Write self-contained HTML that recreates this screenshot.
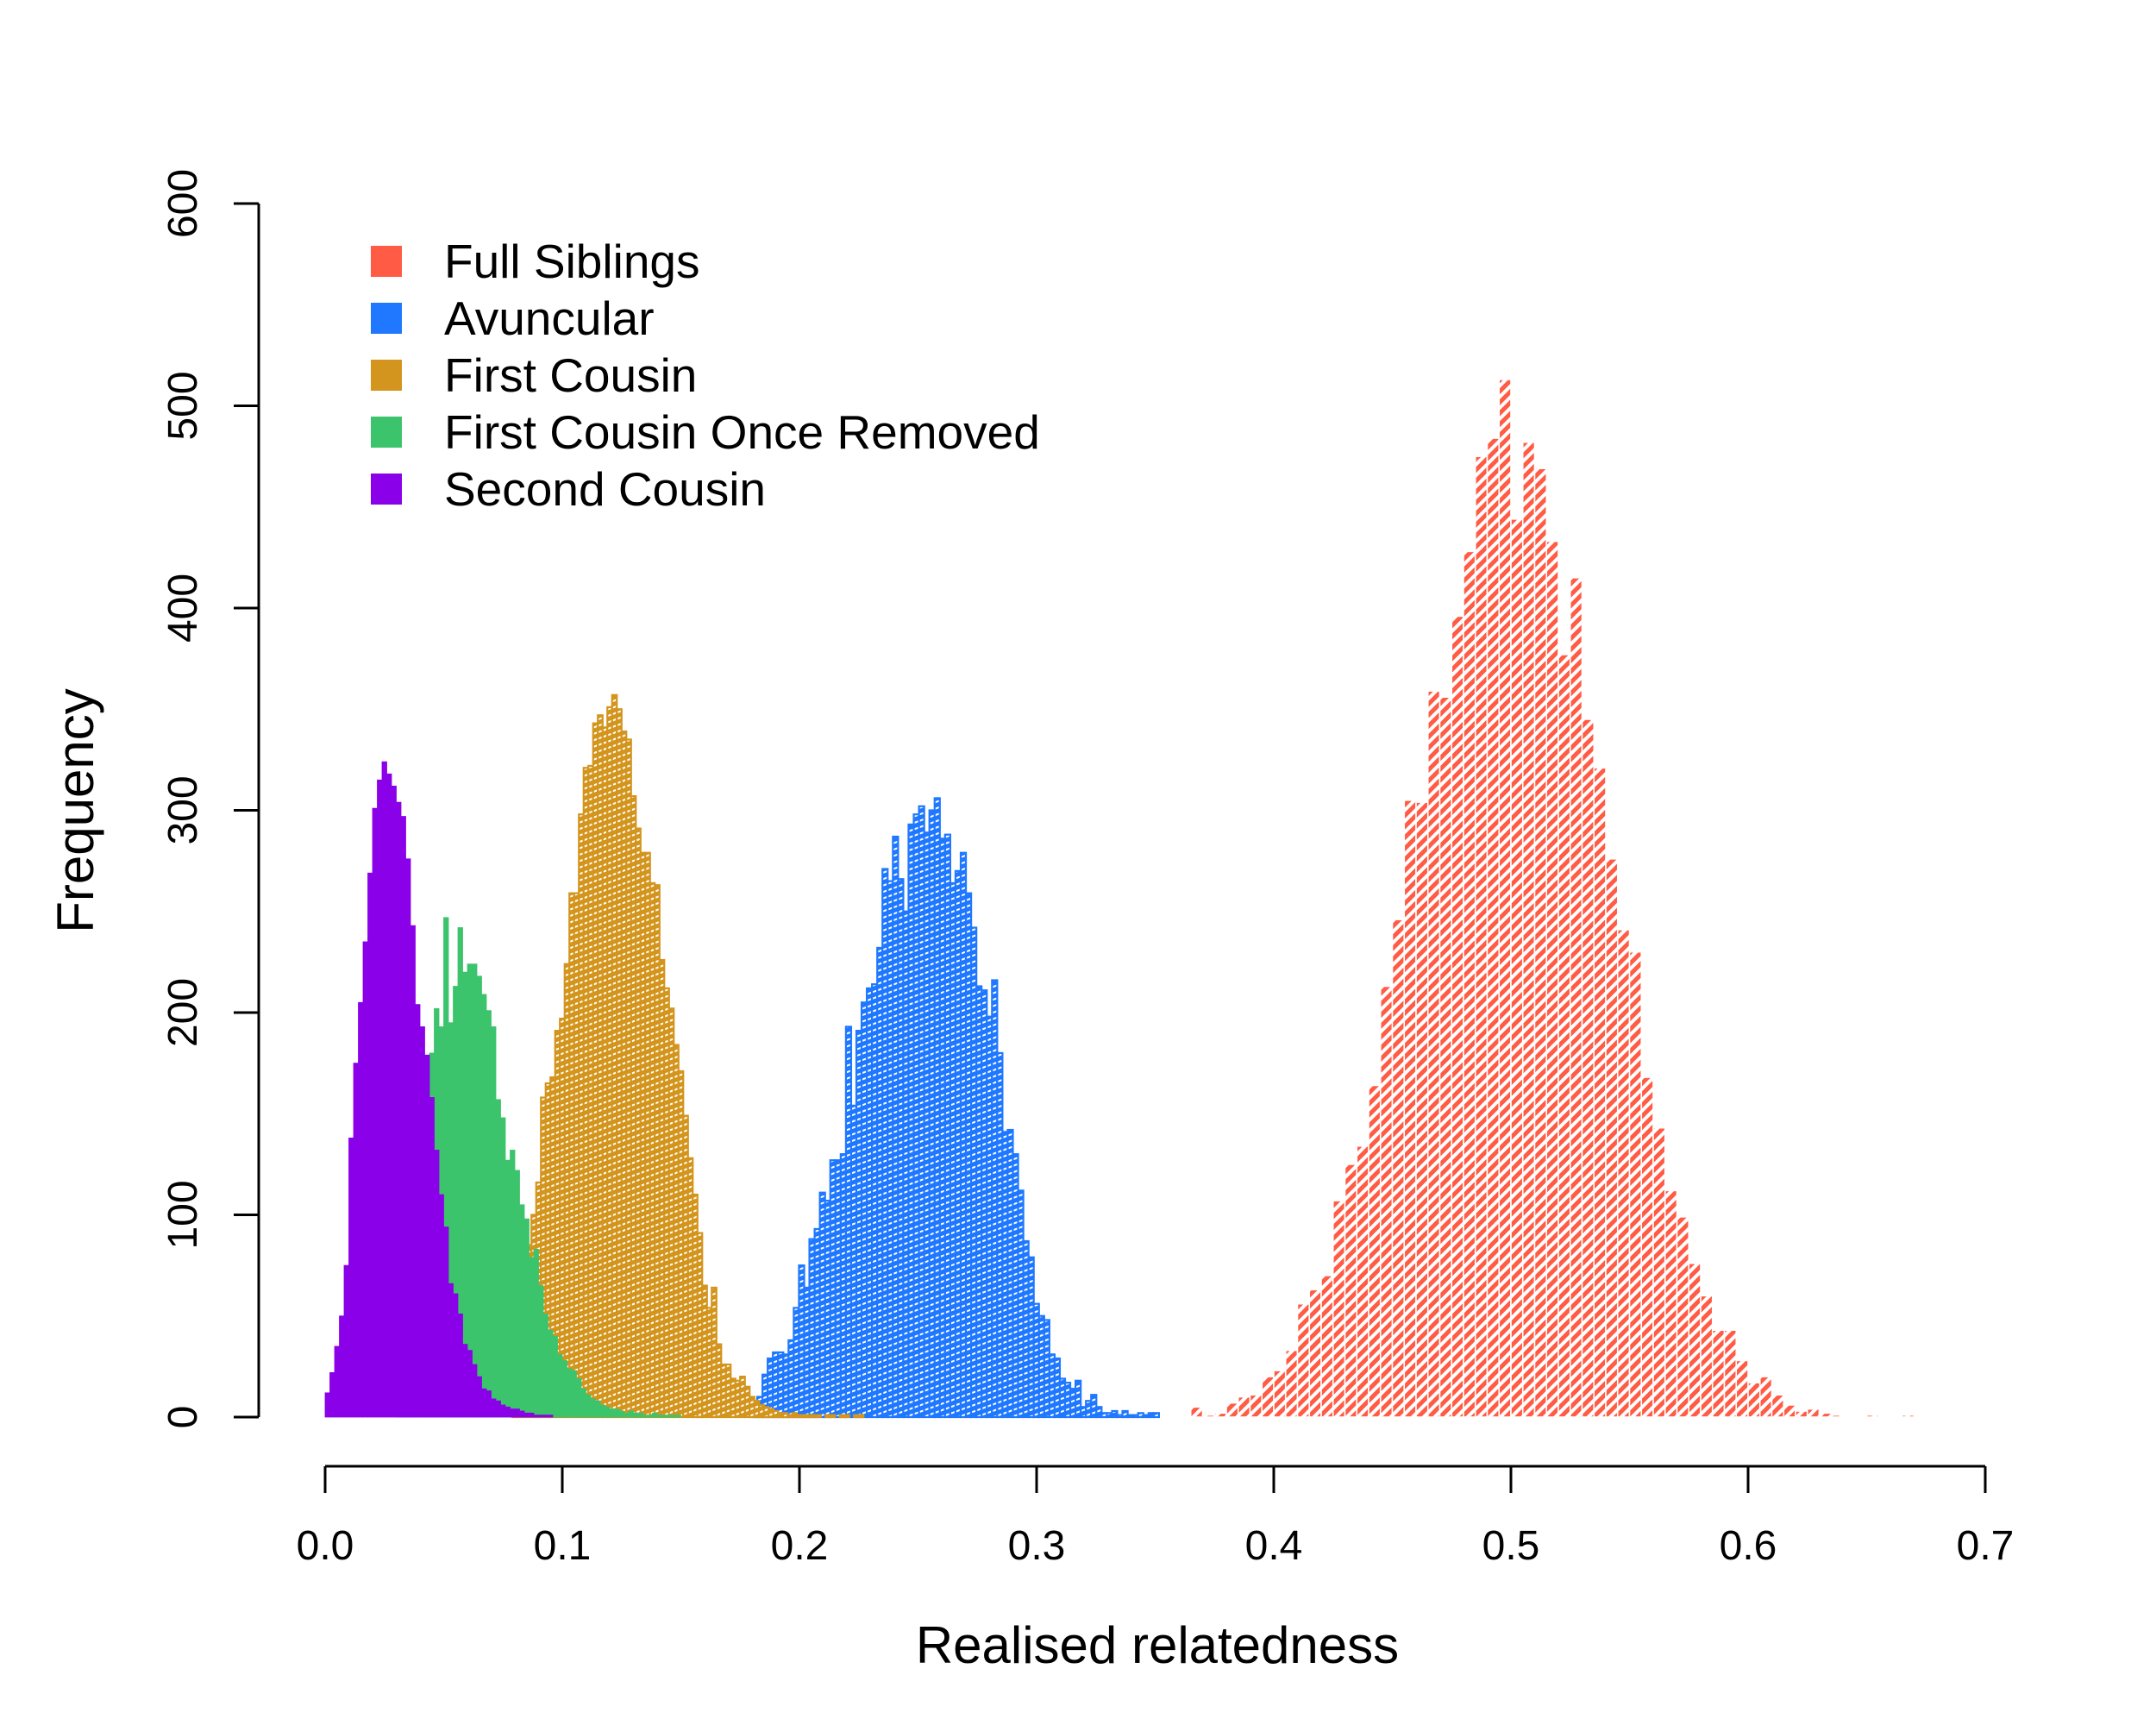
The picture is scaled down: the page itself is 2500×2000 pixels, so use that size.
<!DOCTYPE html>
<html><head><meta charset="utf-8"><style>
html,body{margin:0;padding:0;background:#fff;}
svg{display:block;font-family:"Liberation Sans",Arial,sans-serif;}
</style></head>
<body>
<svg id="chart" width="2500" height="2000" viewBox="0 0 2500 2000" xmlns="http://www.w3.org/2000/svg">
<defs>
<pattern id="hatch-red" patternUnits="userSpaceOnUse" width="9" height="9" patternTransform="rotate(45)">
<rect width="9" height="9" fill="#ffffff"/><rect width="5" height="9" fill="#FF5B45"/></pattern>
<pattern id="hatch-blue" patternUnits="userSpaceOnUse" width="7" height="7" patternTransform="rotate(70)">
<rect width="7" height="7" fill="#ffffff"/><rect width="5" height="7" fill="#1F78FF"/></pattern>
<pattern id="hatch-gold" patternUnits="userSpaceOnUse" width="7" height="7" patternTransform="rotate(70)">
<rect width="7" height="7" fill="#ffffff"/><rect width="5" height="7" fill="#D3951D"/></pattern>
</defs>
<g id="bars"></g>
<g id="axes"></g>
<g>
<rect x="430" y="285" width="36" height="36" fill="#FF5B45"/>
<text x="515" y="322" font-size="55">Full Siblings</text>
<rect x="430" y="351" width="36" height="36" fill="#1F78FF"/>
<text x="515" y="388" font-size="55">Avuncular</text>
<rect x="430" y="417" width="36" height="36" fill="#D3951D"/>
<text x="515" y="454" font-size="55">First Cousin</text>
<rect x="430" y="483" width="36" height="36" fill="#3CC46C"/>
<text x="515" y="520" font-size="55">First Cousin Once Removed</text>
<rect x="430" y="549" width="36" height="36" fill="#8A00E8"/>
<text x="515" y="586" font-size="55">Second Cousin</text>
</g>
<text x="0" y="0" font-size="60" text-anchor="middle" transform="translate(108,940) rotate(-90)">Frequency</text>
<text x="1342" y="1928" font-size="60" text-anchor="middle">Realised relatedness</text>
</svg>
<script>
// Full Siblings: bins of 0.005 starting at 0.365
const redStart = 0.365, redWidth = 0.005;
const redCounts = [5,1,2,7,10,11,20,23,33,56,63,70,107,125,134,164,213,246,305,304,359,356,396,428,475,484,513,444,482,469,433,377,415,345,321,276,241,230,168,143,112,99,76,60,43,43,28,17,20,11,6,3,4,2,1,0,0,1,0,0,1];
// Avuncular: bins of 0.0022 starting at 0.180
const blueStart = 0.180, blueWidth = 0.0022;
const blueCounts = [4,10,21,29,32,32,31,38,54,75,64,88,93,111,107,127,127,130,193,154,191,205,212,214,232,271,265,287,266,250,293,298,302,289,300,306,286,288,264,270,279,259,242,213,211,198,216,180,141,142,130,112,87,79,56,50,48,31,29,19,17,14,18,5,8,11,5,2,2,3,1,3,1,1,2,1,2,2];
// First Cousin: bins of 0.002 starting at 0.079
const goldStart = 0.079, goldWidth = 0.002;
const goldCounts = [40,55,70,85,100,116,158,165,168,191,197,224,259,259,298,321,322,343,347,341,351,357,350,339,335,307,291,279,279,264,263,226,212,202,184,171,149,128,110,91,65,54,64,36,26,26,19,18,20,15,10,8,6,5,4,3,2,2,1,2,1,1,1,1,1,0,1,1,0,1,1,0,1,1];
// First Cousin Once Removed: bins of 0.002 starting at 0.030
const greenStart = 0.030, greenWidth = 0.002;
const greenCounts = [60,80,100,120,140,155,163,180,202,193,247,195,213,242,220,224,224,218,209,201,193,157,148,127,132,122,105,98,79,83,65,51,43,40,31,28,24,23,19,14,11,9,8,6,5,4,4,3,2,3,2,2,1,1,2,1,1,1,1,1];
// Second Cousin: bins of 0.002 starting at 0.000
const purpleStart = 0.000, purpleWidth = 0.002;
const purpleCounts = [12,22,35,50,75,138,175,205,235,269,301,315,324,318,312,304,297,276,243,204,193,179,158,132,110,94,66,61,51,36,33,26,20,14,13,9,8,6,5,4,4,3,2,2,1,1,1,1];
const xTicks = [0.0,0.1,0.2,0.3,0.4,0.5,0.6,0.7];
const xTickLabels = ["0.0","0.1","0.2","0.3","0.4","0.5","0.6","0.7"];
const yTicks = [0,100,200,300,400,500,600];
const yTickLabels = ["0","100","200","300","400","500","600"];

const NS = "http://www.w3.org/2000/svg";
function xScale(d){ return 377 + d * 2750; }
function yScale(v){ return 1643 - v * 2.345; }

const barsG = document.getElementById('bars');
function drawSeries(name, start, width, counts, fill, stroke, sw){
  const g = document.createElementNS(NS,'g');
  
  
  counts.forEach(function(c, i){
    if (c <= 0) return;
    const x0 = xScale(start + i * width), x1 = xScale(start + (i + 1) * width);
    const r = document.createElementNS(NS,'rect');
    
    
    r.setAttribute('x', x0);
    r.setAttribute('y', yScale(c));
    r.setAttribute('width', x1 - x0);
    r.setAttribute('height', yScale(0) - yScale(c));
    r.setAttribute('fill', fill);
    if (stroke) { r.setAttribute('stroke', stroke); r.setAttribute('stroke-width', sw); }
    g.appendChild(r);
  });
  barsG.appendChild(g);
}
drawSeries('full-siblings', redStart, redWidth, redCounts, 'url(#hatch-red)', '#ffffff', 1.6);
drawSeries('avuncular', blueStart, blueWidth, blueCounts, 'url(#hatch-blue)', '#1F78FF', 2.2);
drawSeries('first-cousin', goldStart, goldWidth, goldCounts, 'url(#hatch-gold)', '#D3951D', 2.2);
drawSeries('first-cousin-once-removed', greenStart, greenWidth, greenCounts, '#3CC46C', '#3CC46C', 0.8);
drawSeries('second-cousin', purpleStart, purpleWidth, purpleCounts, '#8A00E8', '#8A00E8', 0.8);

const axesG = document.getElementById('axes');
function line(x1,y1,x2,y2,name){
  const l = document.createElementNS(NS,'line');
  
  
  l.setAttribute('x1',x1); l.setAttribute('y1',y1); l.setAttribute('x2',x2); l.setAttribute('y2',y2);
  l.setAttribute('stroke','#000'); l.setAttribute('stroke-width','3');
  axesG.appendChild(l);
}
line(300, yScale(yTicks[0]), 300, yScale(yTicks[yTicks.length-1]), 'y-axis-line');
yTicks.forEach(function(v, i){
  line(271, yScale(v), 300, yScale(v), 'y-tick');
  const t = document.createElementNS(NS,'text');
  
  
  t.setAttribute('font-size','48');
  t.setAttribute('text-anchor','middle');
  t.setAttribute('transform','translate(228,' + yScale(v) + ') rotate(-90)');
  t.textContent = yTickLabels[i];
  axesG.appendChild(t);
});
line(xScale(xTicks[0]), 1700, xScale(xTicks[xTicks.length-1]), 1700, 'x-axis-line');
xTicks.forEach(function(d, i){
  line(xScale(d), 1700, xScale(d), 1731, 'x-tick');
  const t = document.createElementNS(NS,'text');
  
  
  t.setAttribute('font-size','48');
  t.setAttribute('text-anchor','middle');
  t.setAttribute('x', xScale(d));
  t.setAttribute('y', 1808);
  t.textContent = xTickLabels[i];
  axesG.appendChild(t);
});
</script>
</body></html>
